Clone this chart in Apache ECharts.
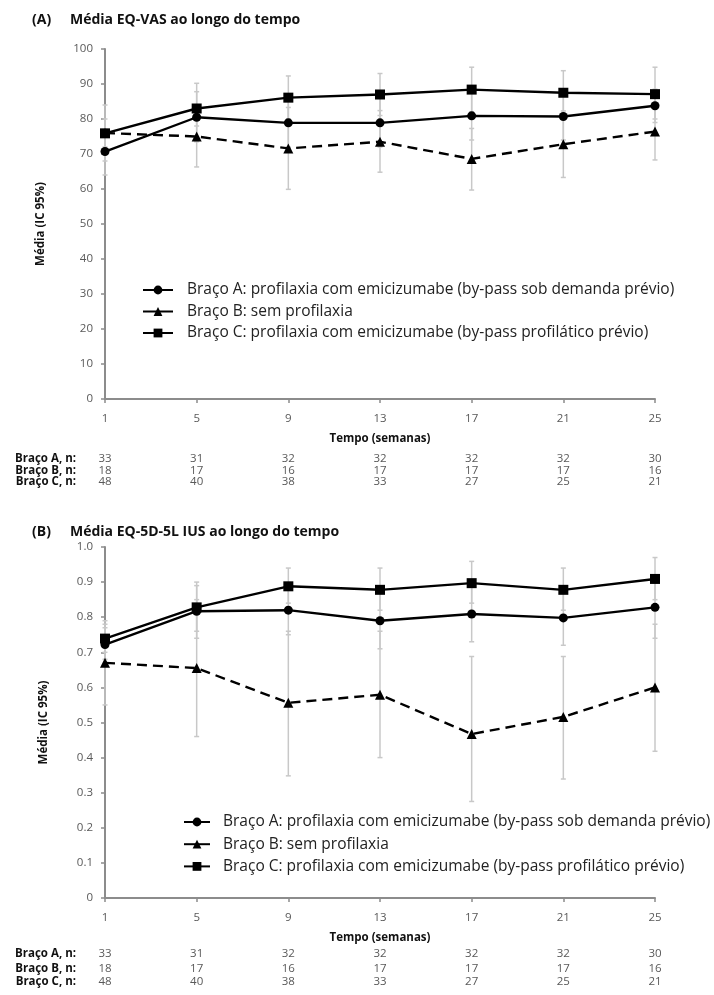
<!DOCTYPE html>
<html><head><meta charset="utf-8">
<script src="https://cdn.jsdelivr.net/npm/echarts@6/dist/echarts.min.js"></script>
<style>html,body{margin:0;padding:0;background:#fff}#c{width:714px;height:995px}</style>
</head><body><div id="c"></div>
<script>
const weeks = ['1','5','9','13','17','21','25'];
const names = ['Braço A: profilaxia com emicizumabe (by-pass sob demanda prévio)','Braço B: sem profilaxia','Braço C: profilaxia com emicizumabe (by-pass profilático prévio)'];
// Panel A: EQ-VAS
const vasA = [70.7, 80.5, 78.9, 78.9, 80.9, 80.7, 83.8];
const vasA_lo = [64, 73.5, 72, 72, 74, 74, 79];
const vasA_hi = [77, 87.8, 86, 86, 87.5, 87.5, 88.5];
const vasB = [76, 75.0, 71.6, 73.5, 68.6, 72.8, 76.4];
const vasB_lo = [68, 66.3, 59.9, 64.8, 59.7, 63.3, 68.3];
const vasB_hi = [84, 84, 83.3, 82.4, 77.3, 82.3, 84.5];
const vasC = [75.9, 83.0, 86.1, 87.0, 88.4, 87.5, 87.1];
const vasC_lo = [72, 78, 80, 81, 82, 81, 80];
const vasC_hi = [80, 90.2, 92.3, 93.0, 94.8, 93.8, 94.8];
// Panel B: EQ-5D-5L IUS
const iusA = [0.722, 0.817, 0.82, 0.79, 0.809, 0.798, 0.828];
const iusA_lo = [0.68, 0.74, 0.75, 0.71, 0.73, 0.72, 0.74];
const iusA_hi = [0.77, 0.89, 0.89, 0.87, 0.89, 0.88, 0.92];
const iusB = [0.67, 0.655, 0.556, 0.579, 0.467, 0.516, 0.60];
const iusB_lo = [0.55, 0.46, 0.348, 0.40, 0.275, 0.339, 0.418];
const iusB_hi = [0.79, 0.85, 0.76, 0.76, 0.688, 0.688, 0.78];
const iusC = [0.739, 0.828, 0.888, 0.878, 0.897, 0.878, 0.909];
const iusC_lo = [0.70, 0.76, 0.84, 0.82, 0.84, 0.82, 0.85];
const iusC_hi = [0.78, 0.90, 0.94, 0.94, 0.959, 0.94, 0.97];
// n per arm
const nA = [33, 31, 32, 32, 32, 32, 30];
const nB = [18, 17, 16, 17, 17, 17, 16];
const nC = [48, 40, 38, 33, 27, 25, 21];
const rowLabels = ['Braço A, n:', 'Braço B, n:', 'Braço C, n:'];

const FONT = 'Open Sans';
const axisGray = '#8c8c8c';
const labelGray = '#595959';

function mainX(gi){
  return {type:'category', gridIndex:gi, data:weeks, boundaryGap:false,
    axisLine:{lineStyle:{color:axisGray, width:2}},
    axisTick:{show:true, length:4, lineStyle:{color:axisGray, width:1.5}},
    axisLabel:{color:labelGray, fontSize:11.5, margin:14, fontFamily:FONT},
    name:'Tempo (semanas)', nameLocation:'middle', nameGap:34,
    nameTextStyle:{fontWeight:'bold', fontSize:11.5, color:'#111', fontFamily:FONT}};
}
function tableX(gi, arr, label, off){
  return {type:'category', gridIndex:gi, data:weeks, boundaryGap:false, position:'bottom', offset:off,
    axisLine:{show:false}, axisTick:{show:false},
    axisLabel:{color:labelGray, fontSize:11.5, margin:0, verticalAlign:'middle', fontFamily:FONT,
      formatter:(v, i) => String(arr[i])},
    name:label, nameLocation:'start', nameGap:29,
    nameTextStyle:{fontWeight:'bold', fontSize:11.5, color:'#111', verticalAlign:'middle', fontFamily:FONT}};
}
function yAx(gi, max, interval, gap, fmt){
  return {type:'value', gridIndex:gi, min:0, max:max, interval:interval,
    axisLine:{show:true, lineStyle:{color:axisGray, width:2}},
    axisTick:{show:true, length:4, lineStyle:{color:axisGray, width:1.5}},
    splitLine:{show:false},
    axisLabel:{color:labelGray, fontSize:11.5, margin:12, fontFamily:FONT, formatter:fmt},
    name:'Média (IC 95%)', nameLocation:'middle', nameGap:gap,
    nameTextStyle:{fontWeight:'bold', fontSize:11.5, color:'#111', fontFamily:FONT}};
}
function errSeries(xi, yi, lo, hi){
  return {type:'custom', xAxisIndex:xi, yAxisIndex:yi, z:1, silent:true,
    data: lo.map((v,i)=>[i, v, hi[i]]),
    renderItem:(params, api)=>{
      const p1 = api.coord([api.value(0), api.value(1)]);
      const p2 = api.coord([api.value(0), api.value(2)]);
      const s = {stroke:'#c8c8c8', lineWidth:1.5};
      return {type:'group', children:[
        {type:'line', shape:{x1:p1[0], y1:p1[1], x2:p2[0], y2:p2[1]}, style:s},
        {type:'line', shape:{x1:p1[0]-2.5, y1:p1[1], x2:p1[0]+2.5, y2:p1[1]}, style:s},
        {type:'line', shape:{x1:p2[0]-2.5, y1:p2[1], x2:p2[0]+2.5, y2:p2[1]}, style:s}
      ]};
    }};
}
function lineSeries(name, xi, yi, data, sym, size, dashed){
  return {type:'line', name:name, xAxisIndex:xi, yAxisIndex:yi, data:data, z:3,
    symbol:sym, symbolSize:size, showSymbol:true,
    itemStyle:{color:'#000'},
    lineStyle:{color:'#000', width:2.4, type: dashed ? [10,6] : 'solid'}};
}
function legendData(){
  return names.map(n => ({name:n, lineStyle:{type:'solid'}}));
}

const titleStyle = {fontSize:14, fontWeight:'bold', color:'#111', fontFamily:FONT};
const option = {
  animation:false,
  backgroundColor:'#fff',
  title:[
    {text:'(A)', left:32, top:13, padding:0, textStyle:titleStyle},
    {text:'Média EQ-VAS ao longo do tempo', left:70, top:13, padding:0, textStyle:titleStyle},
    {text:'(B)', left:32, top:525, padding:0, textStyle:titleStyle},
    {text:'Média EQ-5D-5L IUS ao longo do tempo', left:70, top:525, padding:0, textStyle:titleStyle}
  ],
  legend:[
    {orient:'vertical', left:137, top:277, itemWidth:30, itemHeight:11, itemGap:5.5, data:legendData(),
      textStyle:{fontSize:15.5, color:'#222', fontFamily:FONT, padding:[0,0,0,9]}, selectedMode:false},
    {orient:'vertical', left:178, top:809, itemWidth:26, itemHeight:11, itemGap:6.2, data:legendData(),
      textStyle:{fontSize:15.5, color:'#222', fontFamily:FONT, padding:[0,0,0,8]}, selectedMode:false}
  ],
  grid:[
    {left:105, top:49, width:550, height:350},
    {left:105, top:547, width:550, height:351}
  ],
  xAxis:[
    mainX(0), tableX(0, nA, rowLabels[0], 60), tableX(0, nB, rowLabels[1], 72), tableX(0, nC, rowLabels[2], 83),
    mainX(1), tableX(1, nA, rowLabels[0], 56), tableX(1, nB, rowLabels[1], 71), tableX(1, nC, rowLabels[2], 84)
  ],
  yAxis:[
    yAx(0, 100, 10, 58, v => String(v)),
    yAx(1, 1, 0.1, 55, v => v === 0 ? '0' : v.toFixed(1))
  ],
  series:[
    errSeries(0,0,vasA_lo,vasA_hi), errSeries(0,0,vasB_lo,vasB_hi), errSeries(0,0,vasC_lo,vasC_hi),
    lineSeries(names[0],0,0,vasA,'circle',9,false),
    lineSeries(names[1],0,0,vasB,'triangle',10,true),
    lineSeries(names[2],0,0,vasC,'rect',10,false),
    errSeries(4,1,iusA_lo,iusA_hi), errSeries(4,1,iusB_lo,iusB_hi), errSeries(4,1,iusC_lo,iusC_hi),
    lineSeries(names[0],4,1,iusA,'circle',9,false),
    lineSeries(names[1],4,1,iusB,'triangle',10,true),
    lineSeries(names[2],4,1,iusC,'rect',10,false)
  ]
};
const chart = echarts.init(document.getElementById('c'), null, {renderer:'canvas'});
chart.setOption(option);
</script></body></html>
